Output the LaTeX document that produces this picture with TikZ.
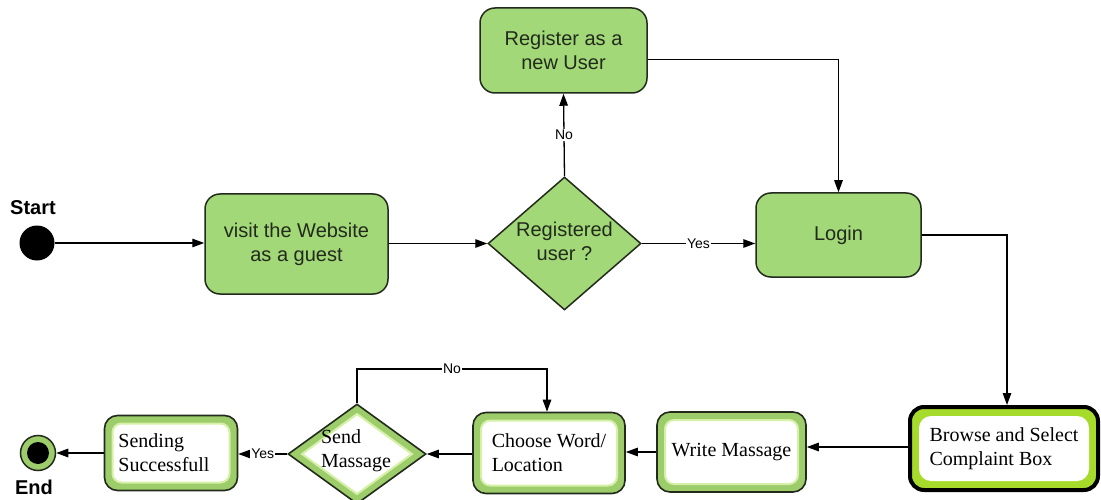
\documentclass[tikz,border=0pt]{standalone}
\usepackage{fontspec}
\setmainfont{Liberation Serif}
\newfontfamily\arialfont{Liberation Sans}
\usetikzlibrary{arrows.meta,shapes.geometric}

\definecolor{boxgreen}{HTML}{A2D878}
\definecolor{edgedark}{HTML}{222A1C}
\definecolor{ringgreen}{HTML}{9CCD6A}
\definecolor{halogreen}{HTML}{D6F0A8}
\definecolor{limegreen}{HTML}{A6DB2C}

\tikzset{
  flow/.style={line width=1.3pt, -{Triangle[length=12pt,width=8.5pt]}},
  lbl/.style={fill=white, inner sep=1pt, font=\arialfont\fontsize{14}{15}\selectfont},
  termlabel/.style={font=\arialfont\bfseries\fontsize{20}{24}\selectfont},
  sanstext/.style={font=\arialfont\fontsize{20}{24}\selectfont, align=center, text=edgedark},
  gbox/.style={rectangle, rounded corners=15pt, draw=edgedark, line width=1.5pt,
    fill=boxgreen, inner sep=0pt, sanstext},
  decision/.style={diamond, draw=edgedark, line width=1.5pt, fill=boxgreen, inner sep=0pt},
  wbox/.style={rectangle, rounded corners=13pt, draw=edgedark, line width=1.6pt,
    fill=ringgreen, inner sep=0pt, align=left,
    font=\fontsize{20}{24}\selectfont,
    path picture={
      \filldraw[white, draw=halogreen, line width=2pt, rounded corners=9pt]
        ([shift={(8pt,-8pt)}]path picture bounding box.north west) rectangle
        ([shift={(-8pt,8pt)}]path picture bounding box.south east);}},
  heavybox/.style={rectangle, rounded corners=14pt, draw=black, line width=4pt,
    fill=limegreen, inner sep=0pt, align=left,
    font=\fontsize{20}{24}\selectfont,
    path picture={
      \fill[white, rounded corners=12pt]
        ([shift={(9pt,-9pt)}]path picture bounding box.north west) rectangle
        ([shift={(-9pt,9pt)}]path picture bounding box.south east);}},
  senddiamond/.style={diamond, draw=edgedark, line width=1.6pt, fill=ringgreen, inner sep=0pt,
    path picture={
      \filldraw[white, draw=halogreen, line width=2pt]
        ([xshift=-55pt]path picture bounding box.center) --
        ([yshift=40pt]path picture bounding box.center) --
        ([xshift=55pt]path picture bounding box.center) --
        ([yshift=-40pt]path picture bounding box.center) -- cycle;}},
  startdot/.style={circle, fill=black, minimum size=35pt, inner sep=0pt},
  enddot/.style={circle, draw=edgedark, line width=1.5pt, fill=ringgreen,
    minimum size=35pt, inner sep=0pt,
    path picture={\fill[black] (path picture bounding box.center) circle[radius=11pt];}}
}

\begin{document}
\begin{tikzpicture}[x=1pt,y=-1pt]
\useasboundingbox (0,0) rectangle (1101,500);

% upper row: guest visit, registration check, login
\node[startdot] (start) at (37,243) {};
\node[termlabel] (startlbl) at (33,208) {Start};
\node[gbox, minimum width=183pt, minimum height=100pt] (visit) at (296.5,244) {visit the Website\\as a guest};
\node[decision, minimum width=153pt, minimum height=133pt] (reg) at (564.5,243.5) {};
\node[sanstext] (regtext) at (564.5,241) {Registered\\user ?};
\node[gbox, minimum width=167pt, minimum height=85pt] (register) at (563.5,50.5) {Register as a\\new User};
\node[gbox, minimum width=165pt, minimum height=84pt] (login) at (838.5,235) {Login};

% lower row: complaint submission
\node[heavybox, minimum width=188pt, minimum height=83pt] (browse) at (1004,448.5) {Browse and Select\\Complaint Box};
\node[wbox, minimum width=149pt, minimum height=80pt] (write) at (731.5,452) {Write Massage};
\node[wbox, minimum width=152pt, minimum height=81pt] (choose) at (549,453) {Choose Word/\\Location};
\node[senddiamond, minimum width=138pt, minimum height=100pt] (send) at (357,454) {};
\node[font=\fontsize{20}{24}\selectfont, align=left] (sendtext) at (356,451) {Send\\Massage};
\node[wbox, minimum width=133pt, minimum height=75pt] (sending) at (171,453) {};
\node[font=\fontsize{20}{24}\selectfont, align=left] (sendingtext) at (164,453) {Sending\\Successfull};
\node[enddot] (end) at (38,453) {};
\node[termlabel] (endlbl) at (34,487) {End};

\coordinate (loopL) at (357,369);
\coordinate (loopR) at (547,369);

% connectors
\draw[flow] (start) -- (start -| visit.west);
\draw[flow] (visit.east |- reg) -- (reg.west);
\draw[flow] (reg.east) -- node[lbl] {Yes} (login.west |- reg.east);
\draw[flow] (reg.north) -- node[lbl] {No} (register.south);
\draw[flow] ([yshift=-9pt]register.east) -| (login.north);
\draw[flow] (login.east) -| ([xshift=3pt]browse.north);
\draw[flow] (browse.west |- 0,447) -- (write.east |- 0,447);
\draw[flow] (write.west) -- (choose.east |- write.west);
\draw[flow] (choose.west |- send.east) -- (send.east);
\draw[flow] (send.north) -- (loopL) -- node[lbl] {No} (loopR) -- (loopR |- choose.north);
\draw[flow] (send.west) -- node[lbl] {Yes} (sending.east |- send.west);
\draw[flow] (sending.west |- end) -- (end.east);
\end{tikzpicture}
\end{document}
